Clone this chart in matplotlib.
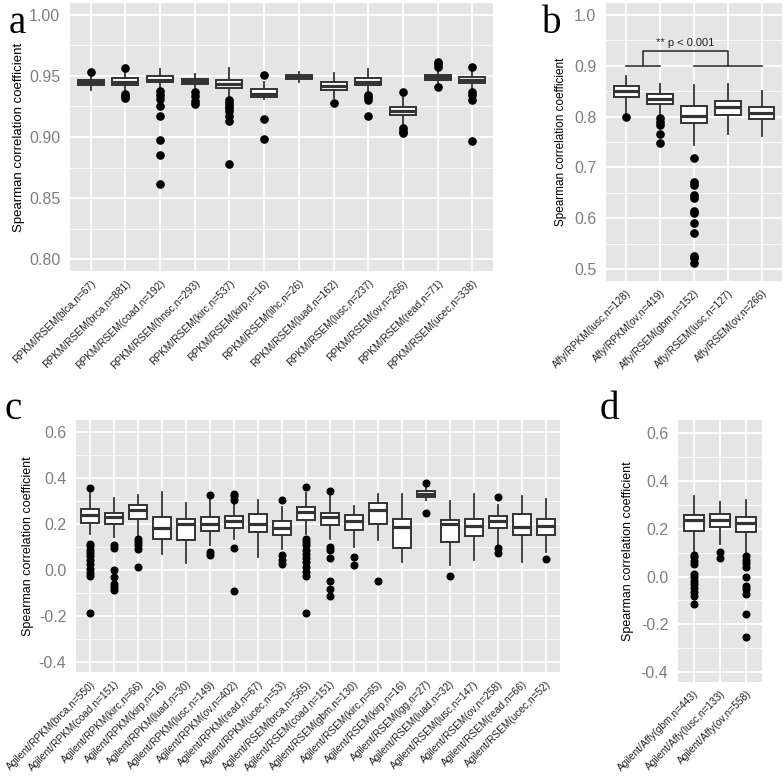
import matplotlib
matplotlib.use("Agg")
import matplotlib.pyplot as plt
from matplotlib.ticker import MultipleLocator

plt.rcParams['font.family'] = ['Liberation Sans', 'DejaVu Sans']

# ---- panel a ----
labels_a = ["RPKM/RSEM(blca,n=67)", "RPKM/RSEM(brca,n=881)", "RPKM/RSEM(coad,n=192)",
            "RPKM/RSEM(hnsc,n=293)", "RPKM/RSEM(kirc,n=537)", "RPKM/RSEM(kirp,n=16)",
            "RPKM/RSEM(lihc,n=26)", "RPKM/RSEM(luad,n=162)", "RPKM/RSEM(lusc,n=237)",
            "RPKM/RSEM(ov,n=266)", "RPKM/RSEM(read,n=71)", "RPKM/RSEM(ucec,n=338)"]
q1_a = [0.943, 0.9425, 0.945, 0.9432, 0.940, 0.9325, 0.9473, 0.9385, 0.9424, 0.918, 0.9465, 0.944]
med_a = [0.945, 0.9447, 0.947, 0.9455, 0.9432, 0.9352, 0.949, 0.9418, 0.9453, 0.9216, 0.949, 0.9467]
q3_a = [0.947, 0.948, 0.950, 0.9478, 0.9467, 0.939, 0.9506, 0.9454, 0.948, 0.9248, 0.9508, 0.949]
lo_a = [0.9385, 0.937, 0.940, 0.939, 0.932, 0.931, 0.945, 0.932, 0.937, 0.911, 0.9435, 0.939]
hi_a = [0.951, 0.953, 0.9555, 0.952, 0.9563, 0.9453, 0.953, 0.9527, 0.9555, 0.934, 0.954, 0.954]
out_a = [[0.9535],
         [0.9563, 0.935, 0.9335, 0.932],
         [0.938, 0.9344, 0.9314, 0.9257, 0.9175, 0.8978, 0.8852, 0.8612],
         [0.937, 0.9335, 0.9295, 0.927],
         [0.930, 0.928, 0.9257, 0.9235, 0.9213, 0.917, 0.913, 0.878],
         [0.9506, 0.9145, 0.8986],
         [],
         [0.9281],
         [0.9344, 0.933, 0.9303, 0.9169],
         [0.9366, 0.9076, 0.9049, 0.9035],
         [0.9617, 0.9596, 0.9576, 0.9407],
         [0.9576, 0.937, 0.9344, 0.930, 0.897]]

# ---- panel b ----
labels_b = ["Affy/RPKM(lusc,n=128)", "Affy/RPKM(ov,n=419)", "Affy/RSEM(gbm,n=152)",
            "Affy/RSEM(lusc,n=127)", "Affy/RSEM(ov,n=266)"]
q1_b = [0.838, 0.825, 0.787, 0.803, 0.7947]
med_b = [0.851, 0.834, 0.802, 0.8195, 0.8065]
q3_b = [0.861, 0.844, 0.821, 0.8313, 0.818]
lo_b = [0.806, 0.802, 0.744, 0.766, 0.762]
hi_b = [0.880, 0.864, 0.862, 0.864, 0.851]
out_b = [[0.7986],
         [0.7966, 0.790, 0.7835, 0.765, 0.749],
         [0.719, 0.672, 0.665, 0.646, 0.640, 0.615, 0.610, 0.591, 0.570, 0.526, 0.521, 0.511],
         [],
         []]

# ---- panel c ----
labels_c = ["Agilent/RPKM(brca,n=550)", "Agilent/RPKM(coad,n=151)", "Agilent/RPKM(kirc,n=66)",
            "Agilent/RPKM(kirp,n=16)", "Agilent/RPKM(luad,n=30)", "Agilent/RPKM(lusc,n=149)",
            "Agilent/RPKM(ov,n=402)", "Agilent/RPKM(read,n=67)", "Agilent/RPKM(ucec,n=53)",
            "Agilent/RSEM(brca,n=565)", "Agilent/RSEM(coad,n=151)", "Agilent/RSEM(gbm,n=130)",
            "Agilent/RSEM(kirc,n=65)", "Agilent/RSEM(kirp,n=16)", "Agilent/RSEM(lgg,n=27)",
            "Agilent/RSEM(luad,n=32)", "Agilent/RSEM(lusc,n=147)", "Agilent/RSEM(ov,n=258)",
            "Agilent/RSEM(read,n=66)", "Agilent/RSEM(ucec,n=52)"]
q1_c = [0.205, 0.200, 0.219, 0.135, 0.128, 0.167, 0.182, 0.164, 0.150, 0.215,
        0.193, 0.171, 0.198, 0.096, 0.317, 0.121, 0.147, 0.182, 0.153, 0.153]
med_c = [0.240, 0.227, 0.261, 0.183, 0.200, 0.198, 0.211, 0.200, 0.183, 0.251,
         0.227, 0.212, 0.259, 0.186, 0.331, 0.198, 0.189, 0.212, 0.186, 0.189]
q3_c = [0.266, 0.248, 0.283, 0.230, 0.219, 0.230, 0.234, 0.241, 0.212, 0.273,
        0.248, 0.237, 0.288, 0.222, 0.343, 0.218, 0.222, 0.234, 0.241, 0.219]
lo_c = [0.157, 0.142, 0.150, 0.070, 0.029, 0.106, 0.135, 0.055, 0.092, 0.157,
        0.135, 0.099, 0.128, 0.033, 0.302, 0.019, 0.041, 0.113, 0.033, 0.077]
hi_c = [0.334, 0.312, 0.324, 0.338, 0.291, 0.302, 0.295, 0.302, 0.273, 0.334,
        0.320, 0.276, 0.328, 0.328, 0.360, 0.298, 0.328, 0.280, 0.321, 0.307]
out_c = [[0.356, 0.113, 0.102, 0.087, 0.073, 0.058, 0.044, 0.023, 0.004, -0.015, -0.029, -0.187],
         [0.106, 0.094, -0.003, -0.032, -0.061, -0.076, -0.090],
         [0.135, 0.121, 0.106, 0.092, 0.012],
         [],
         [],
         [0.324, 0.077, 0.062],
         [0.331, 0.320, 0.305, 0.094, -0.094],
         [],
         [0.301, 0.062, 0.044, 0.026],
         [0.360, 0.135, 0.121, 0.106, 0.084, 0.070, 0.052, 0.033, 0.012, -0.010, -0.029, -0.187],
         [0.341, 0.099, 0.084, 0.051, -0.049, -0.083, -0.115],
         [0.055, 0.022],
         [-0.049],
         [],
         [0.379, 0.247],
         [-0.029],
         [],
         [0.314, 0.094, 0.073],
         [],
         [0.045]]

# ---- panel d ----
labels_d = ["Agilent/Affy(gbm,n=443)", "Agilent/Affy(lusc,n=133)", "Agilent/Affy(ov,n=558)"]
q1_d = [0.190, 0.209, 0.185]
med_d = [0.235, 0.239, 0.225]
q3_d = [0.256, 0.260, 0.249]
lo_d = [0.108, 0.136, 0.101]
hi_d = [0.336, 0.312, 0.319]
out_d = [[0.091, 0.080, 0.066, 0.052, 0.010, -0.004, -0.018, -0.032, -0.046, -0.063, -0.081, -0.114],
         [0.104, 0.076],
         [0.084, 0.069, 0.056, 0.042, -0.004, -0.039, -0.053, -0.072, -0.159, -0.254]]

W, H = 784, 780
fig = plt.figure(figsize=(W / 100, H / 100), dpi=100)


def make_ax(left, right, top, bottom):
    return fig.add_axes([left / W, (H - bottom) / H, (right - left) / W, (bottom - top) / H])


def boxpanel(ax, labels, q1, med, q3, lo, hi, out, ylim, major, minor, msize=5.2):
    stats = []
    for i in range(len(labels)):
        stats.append(dict(med=med[i], q1=q1[i], q3=q3[i], whislo=lo[i], whishi=hi[i], fliers=out[i]))
    n = len(labels)
    ax.set_facecolor('#e5e5e5')
    ax.bxp(stats, positions=range(1, n + 1), widths=0.75, showcaps=False, patch_artist=True,
           boxprops=dict(facecolor='white', edgecolor='#333333', linewidth=1.4),
           whiskerprops=dict(color='#333333', linewidth=1.3),
           medianprops=dict(color='#333333', linewidth=2.3),
           flierprops=dict(marker='o', markerfacecolor='black', markeredgecolor='black',
                           markersize=msize, linestyle='none'),
           zorder=3)
    ax.set_xlim(0.4, n + 0.6)
    ax.set_ylim(*ylim)
    ax.yaxis.set_major_locator(MultipleLocator(major))
    ax.yaxis.set_minor_locator(MultipleLocator(minor))
    ax.grid(which='major', color='white', linewidth=1.3, zorder=0)
    ax.grid(which='minor', axis='y', color='white', linewidth=0.6, zorder=0)
    ax.set_axisbelow(True)
    for s in ax.spines.values():
        s.set_visible(False)
    ax.set_xticks(range(1, n + 1))
    ax.set_xticklabels(labels, rotation=45, ha='right', va='top', rotation_mode='anchor',
                       fontsize=7.3, color='#222222')
    ax.tick_params(axis='both', which='both', length=0)
    ax.tick_params(axis='x', pad=5)
    ax.tick_params(axis='y', labelsize=11.5, labelcolor='#7f7f7f', pad=7)


ax_a = make_ax(70, 493, 3, 271)
boxpanel(ax_a, labels_a, q1_a, med_a, q3_a, lo_a, hi_a, out_a, (0.7902, 1.0098), 0.05, 0.025)
ax_a.yaxis.set_major_formatter(plt.FormatStrFormatter('%.2f'))
ax_a.set_ylabel("Spearman correlation coefficient", fontsize=9.5, labelpad=3)

ax_b = make_ax(606, 782, 3, 281)
boxpanel(ax_b, labels_b, q1_b, med_b, q3_b, lo_b, hi_b, out_b, (0.4764, 1.0236), 0.1, 0.05)
ax_b.yaxis.set_major_formatter(plt.FormatStrFormatter('%.1f'))
ax_b.set_ylabel("Spearman correlation coefficient", fontsize=8.5, labelpad=5)
# significance bracket
ax_b.plot([1, 2], [0.9, 0.9], color='#333333', lw=1.2)
ax_b.plot([3, 5], [0.9, 0.9], color='#333333', lw=1.2)
ax_b.plot([1.5, 1.5, 4, 4], [0.9, 0.929, 0.929, 0.9], color='#333333', lw=1.2)
ax_b.text(2.75, 0.936, "** p < 0.001", ha='center', va='bottom', fontsize=8, color='#222222')

ax_c = make_ax(76, 560, 420, 672)
boxpanel(ax_c, labels_c, q1_c, med_c, q3_c, lo_c, hi_c, out_c, (-0.445, 0.651), 0.2, 0.1, msize=4.8)
ax_c.yaxis.set_major_formatter(plt.FormatStrFormatter('%.1f'))
ax_c.set_ylabel("Spearman correlation coefficient", fontsize=9, labelpad=3)

ax_d = make_ax(678, 762, 420, 682)
boxpanel(ax_d, labels_d, q1_d, med_d, q3_d, lo_d, hi_d, out_d, (-0.442, 0.656), 0.2, 0.1, msize=4.8)
ax_d.yaxis.set_major_formatter(plt.FormatStrFormatter('%.1f'))
ax_d.set_ylabel("Spearman correlation coefficient", fontsize=9, labelpad=5)

for letter, x, y in [("a", 9, 33), ("b", 542, 33), ("c", 5, 419), ("d", 600, 419)]:
    fig.text(x / W, 1 - y / H, letter, fontsize=28, family='Liberation Serif',
             ha='left', va='baseline', color='black')

fig.savefig("out.png", dpi=100)
